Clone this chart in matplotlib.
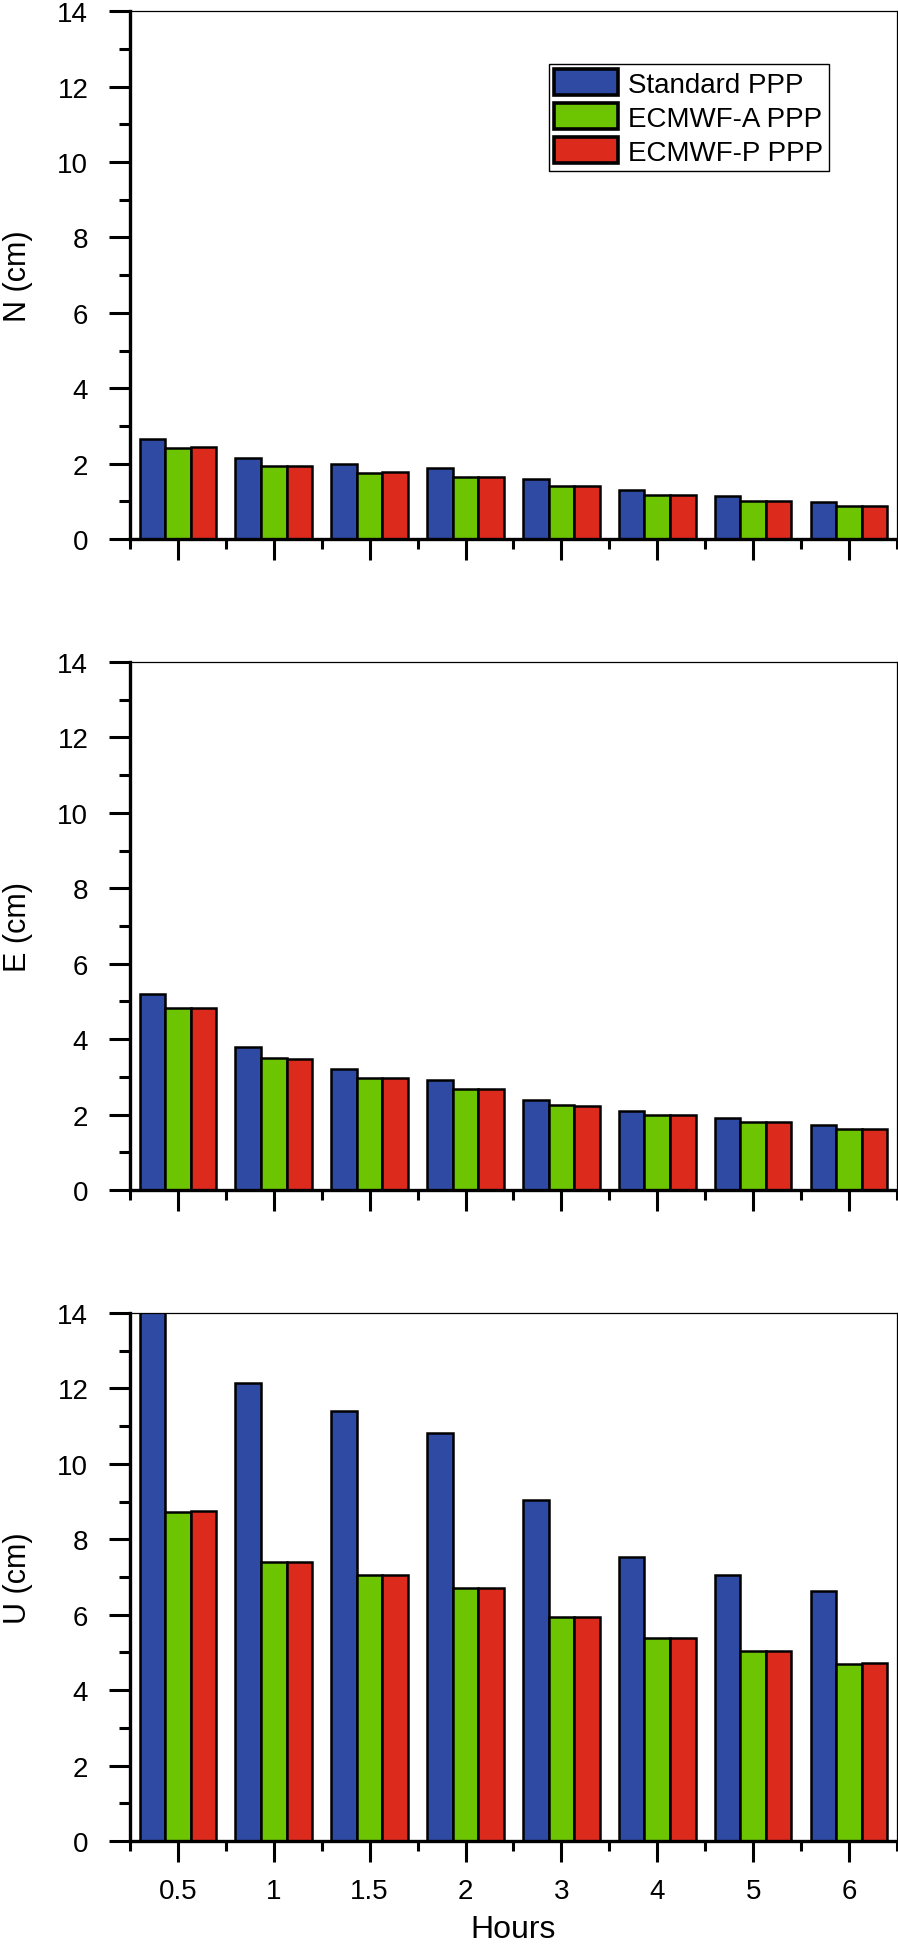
import numpy as np
import matplotlib
matplotlib.use("Agg")
import matplotlib.pyplot as plt
from matplotlib.ticker import MultipleLocator, FixedLocator

plt.rcParams['font.family'] = ['Liberation Sans', 'DejaVu Sans']

# data
hours = ['0.5', '1', '1.5', '2', '3', '4', '5', '6']
series = ['Standard PPP', 'ECMWF-A PPP', 'ECMWF-P PPP']
colors = ['#2F4AA3', '#6CC500', '#DC2A1D']

n_std = [2.65, 2.16, 2.00, 1.89, 1.59, 1.30, 1.13, 0.98]
n_ea = [2.42, 1.93, 1.75, 1.65, 1.41, 1.17, 1.02, 0.88]
n_ep = [2.44, 1.93, 1.77, 1.65, 1.41, 1.17, 1.02, 0.88]

e_std = [5.21, 3.79, 3.21, 2.92, 2.38, 2.09, 1.91, 1.73]
e_ea = [4.83, 3.50, 2.96, 2.68, 2.25, 1.98, 1.81, 1.63]
e_ep = [4.83, 3.47, 2.96, 2.68, 2.23, 1.98, 1.81, 1.63]

u_std = [14.5, 12.15, 11.39, 10.83, 9.03, 7.54, 7.04, 6.63]
u_ea = [8.72, 7.39, 7.04, 6.70, 5.94, 5.39, 5.03, 4.69]
u_ep = [8.74, 7.41, 7.06, 6.72, 5.95, 5.39, 5.03, 4.71]

panels = [('N (cm)', [n_std, n_ea, n_ep]),
          ('E (cm)', [e_std, e_ea, e_ep]),
          ('U (cm)', [u_std, u_ea, u_ep])]

fig = plt.figure(figsize=(8.98, 19.49), dpi=100)
bottoms = [0.7229, 0.3889, 0.0549]
x = np.arange(len(hours))
w = 0.8 / 3

for i, (ylab, vals) in enumerate(panels):
    ax = fig.add_axes([0.1448, bottoms[i], 0.854, 0.2709])
    for k in range(3):
        ax.bar(x + (k - 1) * w, vals[k], w, color=colors[k],
               edgecolor='black', linewidth=1.8, label=series[k])
    ax.set_xlim(-0.5, len(hours) - 0.5)
    ax.set_ylim(0, 14)
    ax.yaxis.set_major_locator(MultipleLocator(2))
    ax.yaxis.set_minor_locator(MultipleLocator(1))
    ax.xaxis.set_major_locator(FixedLocator(x))
    ax.xaxis.set_minor_locator(FixedLocator(np.arange(len(hours) + 1) - 0.5))
    ax.tick_params(axis='both', which='both', direction='out', width=2.2,
                   top=False, right=False)
    ax.tick_params(axis='y', which='major', length=15, pad=15, labelsize=20)
    ax.tick_params(axis='y', which='minor', length=8)
    ax.tick_params(axis='x', which='major', length=15, pad=12, labelsize=20)
    ax.tick_params(axis='x', which='minor', length=7)
    ax.spines['left'].set_linewidth(2.4)
    ax.spines['bottom'].set_linewidth(2.4)
    ax.spines['top'].set_linewidth(0.9)
    ax.spines['right'].set_linewidth(0.9)
    ax.set_ylabel(ylab, fontsize=22)
    ax.yaxis.set_label_coords(-0.126, 0.5)
    if i == 2:
        ax.set_xticklabels(hours)
        ax.set_xlabel('Hours', fontsize=23)
        ax.xaxis.set_label_coords(0.5, -0.138)
    else:
        ax.set_xticklabels([])
    if i == 0:
        leg = ax.legend(loc='upper right', bbox_to_anchor=(0.911, 0.9),
                        borderaxespad=0, fontsize=20, fancybox=False,
                        edgecolor='black', framealpha=1, handlelength=2.3,
                        handleheight=1.05, labelspacing=0.2,
                        handletextpad=0.35, borderpad=0.2)
        leg.get_frame().set_linewidth(1.0)
        for h in leg.legend_handles:
            h.set_linewidth(2.6)

fig.savefig('out.png', dpi=100)
